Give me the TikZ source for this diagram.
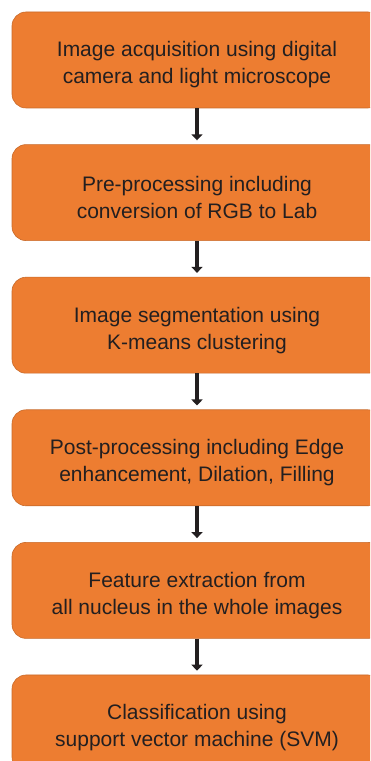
\documentclass[tikz,border=0pt]{standalone}
\usepackage{fontspec}
\setmainfont{Liberation Sans}
\usetikzlibrary{positioning,arrows.meta}
\definecolor{boxorange}{HTML}{ED7D31}
\definecolor{boxedge}{HTML}{C86A2A}
\definecolor{inkdark}{HTML}{231F20}

\begin{document}
\begin{tikzpicture}[
  x=1pt, y=1pt,
  node distance=36pt,
  stage/.style={draw=boxedge, fill=boxorange, rounded corners=14pt, align=center, minimum width=370pt, minimum height=96pt, text=inkdark, line width=0.6pt, font=\fontsize{21}{27}\selectfont, text height=52pt},
  flow/.style={-{Triangle[width=11pt,length=6pt]}, line width=4.5pt, draw=inkdark, shorten >=4pt}
]
\useasboundingbox (0,0) rectangle (370,761);
\clip (0,0) rectangle (370,761);
\node[stage] (acquire) at (197,701) {Image acquisition using digital\\camera and light microscope};
\node[stage, below=of acquire] (preproc) {Pre-processing including\\conversion of RGB to Lab};
\node[stage, below=of preproc] (segment) {Image segmentation using\\K-means clustering};
\node[stage, below=of segment] (postproc) {Post-processing including Edge\\enhancement, Dilation, Filling};
\node[stage, below=of postproc] (features) {Feature extraction from\\all nucleus in the whole images};
\node[stage, below=of features] (classify) {Classification using\\support vector machine (SVM)};

\draw[flow] (acquire) -- (preproc);
\draw[flow] (preproc) -- (segment);
\draw[flow] (segment) -- (postproc);
\draw[flow] (postproc) -- (features);
\draw[flow] (features) -- (classify);
\end{tikzpicture}
\end{document}
